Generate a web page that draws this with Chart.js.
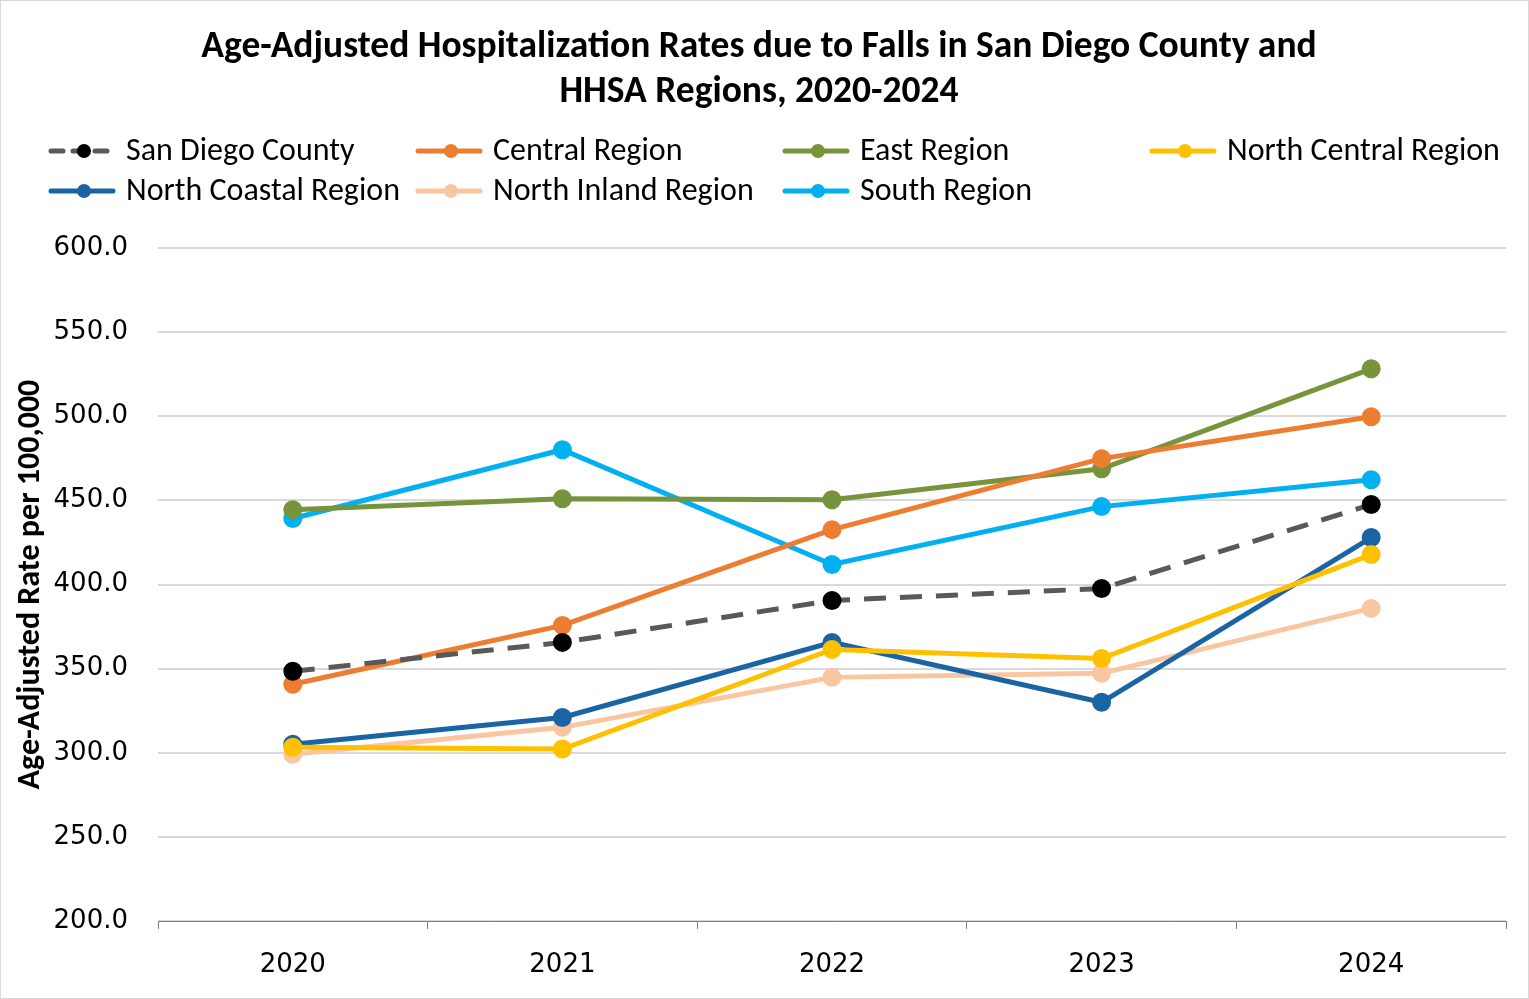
<!DOCTYPE html>
<html>
<head>
<meta charset="utf-8">
<script src="https://cdn.jsdelivr.net/npm/chart.js@4/dist/chart.umd.min.js"></script>
<style>
  html, body { margin: 0; padding: 0; background: #ffffff; }
  #wrap { position: absolute; left: 0; top: 0; width: 1527px; height: 997px; border: 1px solid #D9D9D9; background: #fff; }
  canvas { display: block; }
</style>
</head>
<body>
<div id="wrap"><canvas id="c" width="1527" height="997"></canvas></div>
<script>
const years = ['2020', '2021', '2022', '2023', '2024'];
const seriesNames = ['San Diego County', 'Central Region', 'East Region', 'North Central Region',
                     'North Coastal Region', 'North Inland Region', 'South Region'];
const sanDiegoCounty = [348.4, 365.6, 390.5, 397.6, 447.5];
const centralRegion = [340.7, 375.7, 432.6, 474.8, 499.7];
const eastRegion = [444.5, 451.0, 450.4, 468.8, 528.2];
const northCentralRegion = [303.3, 302.2, 361.4, 356.0, 417.8];
const northCoastalRegion = [305.0, 321.0, 365.6, 330.0, 427.9];
const northInlandRegion = [299.1, 315.1, 344.8, 347.2, 385.8];
const southRegion = [439.2, 480.1, 411.9, 446.3, 462.3];
const yTicks = [200, 250, 300, 350, 400, 450, 500, 550, 600];
const titleLines = ['Age-Adjusted Hospitalization Rates due to Falls in San Diego County and', 'HHSA Regions, 2020-2024'];
const yAxisTitle = 'Age-Adjusted Rate per 100,000';

const CAL = "Carlito, Calibri, 'Liberation Sans Narrow', 'Open Sans', sans-serif";
const TICKFONT = "'DejaVu Sans', Verdana, sans-serif";

function ds(label, data, color, pointColor, dash) {
  return {
    label, data,
    borderColor: color,
    backgroundColor: pointColor,
    pointBackgroundColor: pointColor,
    pointBorderColor: pointColor,
    borderWidth: 5,
    pointRadius: 7,
    pointHoverRadius: 7,
    borderDash: dash || [],
    tension: 0,
    fill: false
  };
}

const datasets = [
  ds(seriesNames[0], sanDiegoCounty, '#595959', '#000000', [22, 14]),
  ds(seriesNames[1], centralRegion, '#ED7D31', '#ED7D31'),
  ds(seriesNames[2], eastRegion, '#77933C', '#77933C'),
  ds(seriesNames[3], northCentralRegion, '#FFC000', '#FFC000'),
  ds(seriesNames[4], northCoastalRegion, '#1B64A4', '#1B64A4'),
  ds(seriesNames[5], northInlandRegion, '#F9C6A2', '#F9C6A2'),
  ds(seriesNames[6], southRegion, '#00B0F0', '#00B0F0')
];
datasets[0].order = -1;

const legendPlugin = {
  id: 'gridLegend',
  afterDraw(chart) {
    const ctx = chart.ctx;
    ctx.save();
    chart.data.datasets.forEach((d, i) => {
      const col = i % 4, row = Math.floor(i / 4);
      const x = 48 + col * 367;
      const y = 150 + row * 40;
      ctx.strokeStyle = d.borderColor;
      ctx.lineWidth = 5;
      ctx.lineCap = 'round';
      ctx.setLineDash(d.borderDash && d.borderDash.length ? [12, 10] : []);
      ctx.beginPath();
      ctx.moveTo(x + 2, y);
      ctx.lineTo(x + 64, y);
      ctx.stroke();
      ctx.setLineDash([]);
      ctx.fillStyle = d.pointBackgroundColor;
      ctx.beginPath();
      ctx.arc(x + 35, y, 7, 0, Math.PI * 2);
      ctx.fill();
      ctx.fillStyle = '#000000';
      ctx.font = '32px ' + CAL;
      ctx.textAlign = 'left';
      ctx.textBaseline = 'middle';
      ctx.fillText(d.label, x + 77, y + 1);
    });
    ctx.restore();
  }
};

new Chart(document.getElementById('c'), {
  type: 'line',
  data: { labels: years, datasets },
  options: {
    responsive: false,
    animation: false,
    layout: { padding: { top: 0, left: 11, right: 22, bottom: 0 } },
    plugins: {
      legend: { display: false },
      tooltip: { enabled: false },
      title: {
        display: true,
        text: titleLines,
        color: '#000000',
        font: { family: CAL, size: 37.5, weight: 'bold', lineHeight: 1.2 },
        padding: { top: 24, bottom: 133 }
      }
    },
    scales: {
      x: {
        offset: true,
        afterFit(scale) { scale.height = 77; },
        grid: { display: true, drawOnChartArea: false, drawTicks: true, tickLength: 8, color: '#808080', offset: true },
        border: { display: true, color: '#808080', width: 1 },
        ticks: { color: '#000000', font: { family: TICKFONT, size: 26 }, padding: 21 }
      },
      y: {
        min: 200, max: 600,
        afterBuildTicks(scale) { scale.ticks = yTicks.map(v => ({ value: v })); },
        afterFit(scale) { scale.width = 146; },
        grid: { color: '#D9D9D9', lineWidth: 2, drawTicks: false },
        border: { display: false },
        ticks: {
          color: '#000000', font: { family: TICKFONT, size: 26 }, padding: 30,
          callback: v => Number(v).toFixed(1)
        },
        title: {
          display: true, text: yAxisTitle, color: '#000000',
          font: { family: CAL, size: 32, weight: 'bold' }, padding: { top: 0, bottom: 6 }
        }
      }
    }
  },
  plugins: [legendPlugin]
});
</script>
</body>
</html>
